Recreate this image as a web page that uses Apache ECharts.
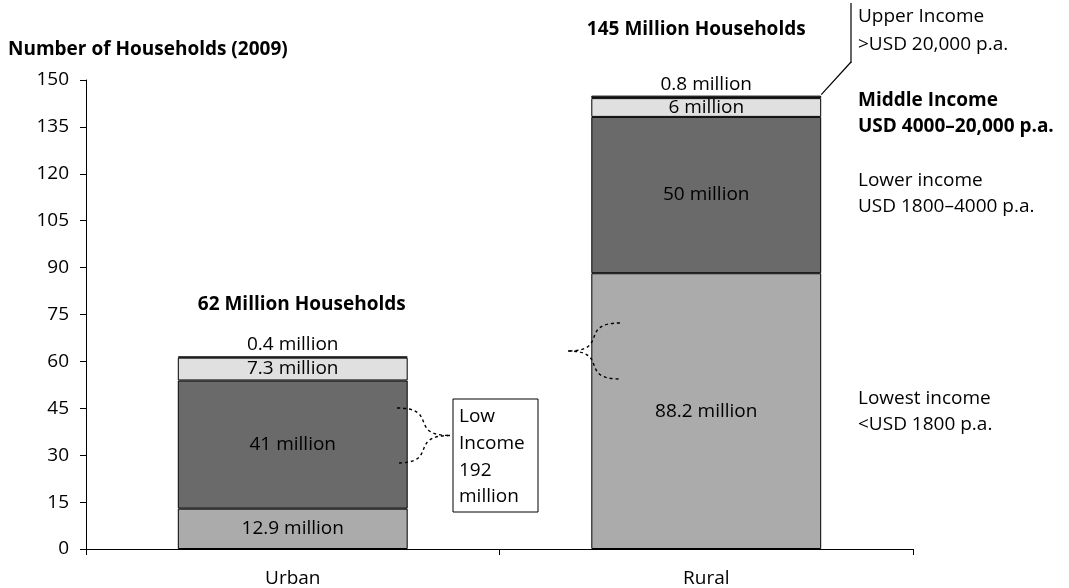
<!DOCTYPE html>
<html><head><meta charset="utf-8">
<script src="https://cdn.jsdelivr.net/npm/echarts@6/dist/echarts.min.js"></script>
<style>html,body{margin:0;padding:0;background:#fff}#c{width:1069px;height:588px}</style>
</head><body><div id="c"></div>
<script>
const categories = ['Urban', 'Rural'];
const lowest = [12.9, 88.2];
const lower = [41, 50];
const middle = [7.3, 6];
const upper = [0.4, 0.8];
const lowestLabels = ['12.9 million', '88.2 million'];
const lowerLabels = ['41 million', '50 million'];
const middleLabels = ['7.3 million', '6 million'];
const upperLabels = ['0.4 million', '0.8 million'];
const totalsText = ['62 Million Households', '145 Million Households'];
const yTicks = [0, 15, 30, 45, 60, 75, 90, 105, 120, 135, 150];

const FONT = 'Open Sans';
const FS = 19;
const chart = echarts.init(document.getElementById('c'), null, {renderer: 'canvas'});
function mk(name, data, labels, color, pos) {
  return {
    name, type: 'bar', stack: 'hh', data, barWidth: '55.6%',
    itemStyle: {color, borderColor: '#000', borderWidth: 1},
    label: {show: true, position: pos, distance: 2, color: '#000', fontFamily: FONT, fontSize: FS,
      formatter: p => labels[p.dataIndex]}
  };
}
chart.setOption({
  animation: false,
  grid: {left: 86, right: 156, top: 80, bottom: 39},
  xAxis: {type: 'category', data: categories,
    axisLine: {lineStyle: {color: '#000', width: 1}},
    axisTick: {show: true, alignWithLabel: false, length: 6, lineStyle: {color: '#000'}},
    axisLabel: {color: '#000', fontFamily: FONT, fontSize: FS, margin: 20}},
  yAxis: {type: 'value', min: 0, max: 150, interval: 15,
    axisLine: {show: true, lineStyle: {color: '#000'}},
    axisTick: {show: true, length: 6, lineStyle: {color: '#000'}},
    splitLine: {show: false},
    axisLabel: {color: '#000', fontFamily: FONT, fontSize: FS, margin: 17,
      formatter: v => yTicks.includes(v) ? String(v) : ''}},
  series: [
    mk('Lowest', lowest, lowestLabels, '#ababab', 'inside'),
    mk('Lower', lower, lowerLabels, '#6a6a6a', 'inside'),
    mk('Middle', middle, middleLabels, '#e0e0e0', 'inside'),
    mk('Upper', upper, upperLabels, '#3a3a3a', 'top')
  ]
});

function px(cat, val) { return chart.convertToPixel({xAxisIndex: 0, yAxisIndex: 0}, [cat, val]); }
const T = (text, x, y, opts = {}) => ({type: 'text', x, y, z: 10, style: {
  text, fill: '#000', fontFamily: FONT, fontSize: opts.size || FS, fontWeight: opts.bold ? 'bold' : 'normal',
  align: opts.align || 'left', verticalAlign: 'middle'}});
const dash = {stroke: '#000', lineWidth: 1.4, lineDash: [3, 3], fill: null};

function brace(xEnd, y1, y2, xp) {
  const ym = (y1 + y2) / 2;
  const d = xp - xEnd;
  const a = xEnd + 0.8 * d, b = xEnd + 0.2 * d;
  return [
    {type: 'bezierCurve', z: 10, silent: true, shape: {x1: xEnd, y1: y1, cpx1: a, cpy1: y1, cpx2: b, cpy2: ym, x2: xp, y2: ym}, style: dash},
    {type: 'bezierCurve', z: 10, silent: true, shape: {x1: xp, y1: ym, cpx1: b, cpy1: ym, cpx2: a, cpy2: y2, x2: xEnd, y2: y2}, style: dash}
  ];
}

const uTop = px('Urban', lowest[0] + lower[0] + middle[0] + upper[0]);
const rTop = px('Rural', lowest[1] + lower[1] + middle[1] + upper[1]);
const rRight = rTop[0] + 115;

const g = [
  T('Number of Households (2009)', 8, 50, {bold: true}),
  T(totalsText[0], uTop[0] + 9, 305, {bold: true, align: 'center'}),
  T(totalsText[1], rTop[0] - 10, 30, {bold: true, align: 'center'}),
  T('Upper Income', 858, 17), T('>USD 20,000 p.a.', 858, 45),
  T('Middle Income', 858, 101, {bold: true}), T('USD 4000\u201320,000 p.a.', 858, 127, {bold: true}),
  T('Lower income', 858, 181), T('USD 1800\u20134000 p.a.', 858, 207),
  T('Lowest income', 858, 399), T('<USD 1800 p.a.', 858, 425),
  {type: 'line', z: 10, shape: {x1: 851, y1: 3, x2: 851, y2: 63}, style: {stroke: '#000', lineWidth: 1.2}},
  {type: 'line', z: 10, shape: {x1: rRight, y1: rTop[1] - 1, x2: 851, y2: 62}, style: {stroke: '#000', lineWidth: 1.2}},
  {type: 'rect', z: 9, shape: {x: 453, y: 399, width: 85, height: 113}, style: {fill: '#fff', stroke: '#000', lineWidth: 1}},
  T('Low', 459, 417), T('Income', 459, 444), T('192', 459, 471), T('million', 459, 497)
].concat(brace(397, 408, 463, 450)).concat(brace(620, 323, 379, 568));
chart.setOption({graphic: g});
</script></body></html>
